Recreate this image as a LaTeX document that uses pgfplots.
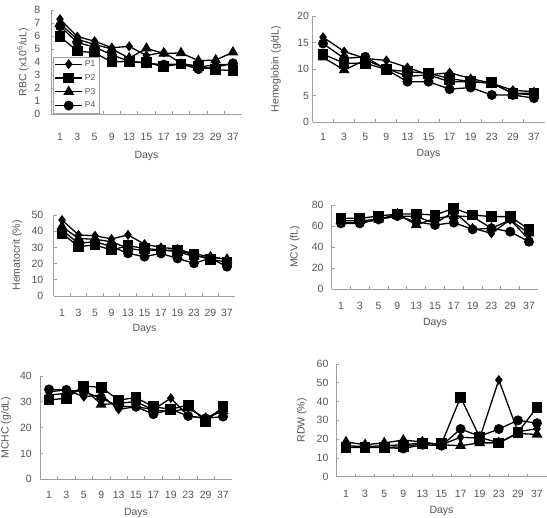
\documentclass[border=0pt]{standalone}
\usepackage{fontspec}
\setmainfont{Liberation Sans}
\usepackage{pgfplots}
\usepackage{pgfplotstable}
\pgfplotsset{compat=1.18}

\definecolor{txt}{RGB}{85,85,85}
\definecolor{axc}{RGB}{160,160,160}

% columns: category index, then the four patients
\pgfplotstableread{
i P1 P2 P3 P4
0 7.3 5.95 6.95 6.75
1 5.95 4.85 5.75 5.5
2 5.6 4.7 5.35 5.15
3 5.1 4.0 5.0 4.55
4 5.2 4.05 4.3 4.05
5 4.5 3.95 5.05 3.9
6 4.75 3.65 4.65 3.8
7 3.9 3.85 4.7 3.85
8 3.6 3.7 4.1 3.45
9 3.8 3.4 4.15 3.6
10 3.8 3.35 4.75 3.9
}\rbc

\pgfplotstableread{
i P1 P2 P3 P4
0 16.0 12.8 12.2 14.8
1 13.3 11.1 9.8 12.0
2 12.0 11.1 11.7 12.3
3 11.6 9.9 10.1 9.9
4 10.3 9.5 8.6 7.6
5 8.9 9.2 8.9 7.6
6 9.3 8.2 7.6 6.2
7 8.2 7.6 7.6 6.5
8 7.3 7.4 7.3 5.1
9 6.0 5.4 5.4 5.1
10 5.7 5.4 5.1 4.5
}\hgb

\pgfplotstableread{
i P1 P2 P3 P4
0 46.9 38.7 42.8 40.7
1 37.7 30.5 35.5 32.5
2 37.2 31.5 35.0 33.5
3 35.2 28.4 33.5 30.5
4 37.7 31.0 29.4 26.3
5 32.0 29.4 28.0 24.3
6 30.0 28.4 28.4 26.3
7 29.0 28.0 27.4 23.2
8 26.0 25.5 24.3 20.2
9 24.3 22.5 24.0 23.3
10 22.6 21.0 22.6 18.1
}\hct

\pgfplotstableread{
i P1 P2 P3 P4
0 63.0 67.3 65.0 62.5
1 63.0 67.3 65.0 62.5
2 66.3 69.5 66.3 66.3
3 69.5 71.4 71.4 69.5
4 69.0 71.4 61.0 64.1
5 62.5 70.5 67.3 61.0
6 73.6 76.8 69.5 63.2
7 58.0 70.5 68.9 56.8
8 53.0 68.9 57.8 57.8
9 66.0 68.9 65.7 54.6
10 47.3 56.8 53.0 45.0
}\mcv

\pgfplotstableread{
i P1 P2 P3 P4
0 33.9 30.7 32.6 34.8
1 34.6 31.4 33.3 34.6
2 32.0 36.1 35.2 33.9
3 32.6 35.6 29.0 31.4
4 27.1 30.7 29.4 28.3
5 28.1 31.6 30.1 28.1
6 27.0 28.1 26.8 25.2
7 31.4 27.1 26.2 27.1
8 24.5 28.8 27.5 24.5
9 23.6 22.3 23.6 23.6
10 27.1 28.1 26.5 24.3
}\mchc

\pgfplotstableread{
i P1 P2 P3 P4
0 16.5 15.5 18.5 15.5
1 16.0 15.5 17.0 16.0
2 16.5 15.5 18.0 15.5
3 17.0 16.0 19.5 15.0
4 18.0 17.5 18.5 17.0
5 17.0 17.5 17.0 16.5
6 21.0 42.3 16.5 25.4
7 20.5 21.0 18.0 21.5
8 51.5 18.0 18.0 25.4
9 24.0 23.5 23.0 30.0
10 25.5 37.0 22.5 28.5
}\rdw

\pgfplotsset{
  panel/.style={
    scale only axis, anchor=south west, clip=false,
    axis lines*=left,
    axis line style={draw=axc, line width=0.8pt},
    xmin=-0.5, xmax=10.5, ymin=0,
    xtick={0,...,10},
    xticklabels={1,3,5,9,13,15,17,19,23,29,37},
    minor xtick={0.5,1.5,...,9.5},
    tick align=inside,
    major tick length=3pt, minor tick length=3pt,
    tick style={draw=axc, line width=0.8pt},
    every major x tick/.append style={draw=none},
    tick label style={font=\fontsize{10.5}{12}\selectfont, text=txt},
    label style={font=\fontsize{10.5}{12}\selectfont, text=txt},
    xticklabel style={anchor=center},
    yticklabel style={anchor=east},
    xlabel={Days},
    xlabel style={anchor=center},
    ylabel style={anchor=center},
    /pgf/number format/assume math mode=true,
  },
  pA/.style={black, line width=1.3pt, mark=diamond*, mark size=4pt},
  pB/.style={black, line width=1.3pt, mark=square*, mark size=4.7pt},
  pC/.style={black, line width=1.3pt, mark=triangle*, mark size=5pt},
  pD/.style={black, line width=1.3pt, mark=*, mark size=4.3pt},
}

\newcommand\series[1]{%
  \addplot[pA] table[x=i, y=P1] {#1};
  \addplot[pB] table[x=i, y=P2] {#1};
  \addplot[pC] table[x=i, y=P3] {#1};
  \addplot[pD] table[x=i, y=P4] {#1};
}

\begin{document}
\begin{tikzpicture}
\path[use as bounding box] (0pt,0pt) rectangle (547pt,518pt);

% RBC
\begin{axis}[panel, at={(51.35pt,404pt)}, width=190.25pt, height=104pt,
  ymax=8, ytick={0,...,8},
  ylabel={RBC (x10\textsuperscript{6}/uL)},
  xticklabel style={yshift=-23pt}, yticklabel style={xshift=-7.5pt},
  ylabel style={at={([xshift=-28.4pt]axis description cs:0,0.5)}},
  xlabel style={at={([yshift=-42pt]axis description cs:0.5,0)}},
  legend cell align=left,
  legend image code/.code={%
    \draw[mark repeat=2, mark phase=2] plot coordinates {(0pt,0pt) (13.5pt,0pt) (27pt,0pt)};},
  legend style={at={(axis description cs:0.008,0.01)}, anchor=south west,
    draw=axc, fill=white, inner sep=1.5pt, row sep=2.4pt,
    font=\fontsize{8.5}{9}\selectfont, text=txt},
  legend entries={P1,P2,P3,P4}]
\series{\rbc}
\end{axis}

% Hemoglobin
\begin{axis}[panel, at={(312.5pt,396pt)}, width=232pt, height=106pt,
  ymax=20, ytick={0,5,...,20},
  ylabel={Hemoglobin (g/dL)},
  xticklabel style={yshift=-15pt}, yticklabel style={xshift=0pt},
  ylabel style={at={([xshift=-36.5pt]axis description cs:0,0.5)}},
  xlabel style={at={([yshift=-32pt]axis description cs:0.5,0)}}]
\series{\hgb}
\end{axis}

% Hematocrit
\begin{axis}[panel, at={(53.75pt,222pt)}, width=181.5pt, height=81pt,
  ymax=50, ytick={0,10,...,50},
  ylabel={Hematocrit (\%)},
  xticklabel style={yshift=-16.7pt}, yticklabel style={xshift=-7pt},
  ylabel style={at={([xshift=-36.7pt]axis description cs:0,0.5)}},
  xlabel style={at={([yshift=-33pt]axis description cs:0.5,0)}}]
\series{\hct}
\end{axis}

% MCV
\begin{axis}[panel, at={(331.6pt,229pt)}, width=206.8pt, height=84pt,
  ymax=80, ytick={0,20,...,80},
  ylabel={MCV (fL)},
  xticklabel style={yshift=-17pt}, yticklabel style={xshift=-4.5pt},
  ylabel style={at={([xshift=-36.6pt]axis description cs:0,0.5)}},
  xlabel style={at={([yshift=-34pt]axis description cs:0.5,0)}}]
\series{\mcv}
\end{axis}

% MCHC
\begin{axis}[panel, at={(40.3pt,38.7pt)}, width=191.4pt, height=103.3pt,
  ymax=40, ytick={0,10,...,40},
  ylabel={MCHC (g/dL)},
  xticklabel style={yshift=-15.7pt}, yticklabel style={xshift=-5pt},
  ylabel style={at={([xshift=-34.3pt]axis description cs:0,0.5)}},
  xlabel style={at={([yshift=-34pt]axis description cs:0.5,0)}}]
\series{\mchc}
\end{axis}

% RDW
\begin{axis}[panel, at={(336.45pt,41.3pt)}, width=210.1pt, height=112.7pt,
  ymax=60, ytick={0,10,...,60},
  ylabel={RDW (\%)},
  xticklabel style={yshift=-17.3pt}, yticklabel style={xshift=-4.5pt},
  ylabel style={at={([xshift=-34.5pt]axis description cs:0,0.5)}},
  xlabel style={at={([yshift=-34pt]axis description cs:0.5,0)}}]
\series{\rdw}
\end{axis}
\end{tikzpicture}
\end{document}
